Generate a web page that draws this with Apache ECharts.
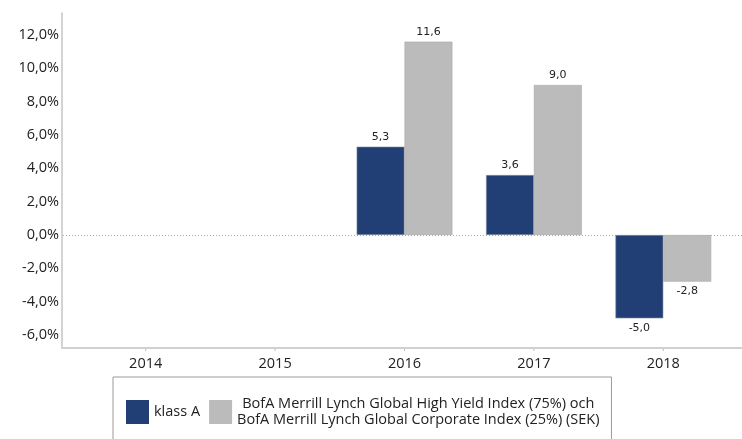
<!DOCTYPE html>
<html>
<head>
<meta charset="utf-8">
<script src="https://cdn.jsdelivr.net/npm/echarts@6/dist/echarts.min.js"></script>
<style>
  html, body { margin: 0; padding: 0; background: #fff; }
  #chart { width: 742px; height: 439px; }
</style>
</head>
<body>
<div id="chart"></div>
<script>
const years = ['2014', '2015', '2016', '2017', '2018']
const klassA = [null, null, 5.3, 3.6, -5.0]
const index = [null, null, 11.6, 9.0, -2.8]
const seriesNames = [
  'klass A',
  'BofA Merrill Lynch Global High Yield Index (75%) och\nBofA Merrill Lynch Global Corporate Index (25%) (SEK)'
]
const yMin = -6
const yMax = 12
const yStep = 2

const fmtPct = v => v.toFixed(1).replace('.', ',') + '%'
const fmtVal = p => p.value == null ? '' : p.value.toFixed(1).replace('.', ',')

const chart = echarts.init(document.getElementById('chart'))

const barLabel = {
  show: true,
  position: 'outside',
  formatter: fmtVal,
  fontFamily: 'DejaVu Sans',
  fontSize: 11,
  color: '#222',
  distance: 4
}

chart.setOption({
  animation: false,
  legend: {
    left: 113,
    top: 377,
    padding: [19, 12, 30, 13],
    borderColor: '#9a9a9a',
    borderWidth: 1,
    itemWidth: 23,
    itemHeight: 24,
    itemGap: 9,
    icon: 'rect',
    itemStyle: { borderWidth: 0 },
    formatter: name => name.split('\n').map(s => '{c|' + s + '}').join('\n'),
    textStyle: {
      fontFamily: 'Open Sans', fontSize: 14.5, color: '#222', lineHeight: 16,
      rich: { c: { align: 'center', fontFamily: 'Open Sans', fontSize: 14.5, color: '#222', lineHeight: 16 } }
    },
    data: seriesNames
  },
  grid: [
    // plot grid for the bars
    { left: 81, right: 14, top: 35, bottom: 104 },
    // frame grid: axis lines
    { left: 62, right: 0, top: 13, bottom: 91 }
  ],
  xAxis: [
    {
      gridIndex: 0,
      type: 'category',
      data: years,
      axisLine: { show: false },
      axisTick: { show: false },
      axisLabel: { show: false }
    },
    {
      gridIndex: 1,
      type: 'value',
      min: 0,
      max: 680,
      axisLine: { show: true, lineStyle: { color: '#d0d0d0', width: 2 } },
      axisTick: { show: false },
      axisLabel: { show: false },
      splitLine: { show: false }
    }
  ],
  yAxis: [
    {
      gridIndex: 0,
      type: 'value',
      min: yMin,
      max: yMax,
      interval: yStep,
      axisLine: { show: false },
      axisTick: { show: false },
      axisLabel: {
        formatter: fmtPct,
        fontFamily: 'Open Sans',
        fontSize: 14.5,
        color: '#222',
        margin: 22
      },
      splitLine: { show: false }
    },
    {
      gridIndex: 1,
      type: 'value',
      min: 0,
      max: 1,
      axisLine: { show: true, lineStyle: { color: '#c4c4c4', width: 1.5 } },
      axisTick: { show: false },
      axisLabel: { show: false },
      splitLine: { show: false }
    }
  ],
  series: [
    {
      name: seriesNames[0],
      type: 'bar',
      data: klassA,
      barWidth: '37%',
      barGap: '0%',
      itemStyle: { color: '#213f74', borderColor: '#8a95a8', borderWidth: 0.6 },
      label: barLabel
    },
    {
      name: seriesNames[1],
      type: 'bar',
      data: index,
      barWidth: '37%',
      itemStyle: { color: '#bbbbbb', borderColor: '#a8a8a8', borderWidth: 0.6 },
      label: barLabel
    }
  ]
})

// category labels and ticks on the bottom axis, placed through the bar grid's category scale
const labelGraphics = years.map(y => {
  const px = chart.convertToPixel({ xAxisIndex: 0 }, y)
  return {
    type: 'text',
    x: px,
    y: 356,
    style: { text: y, fontFamily: 'Open Sans', fontSize: 14.5, fill: '#222', align: 'center' }
  }
})
const tickGraphics = years.map(y => {
  const px = chart.convertToPixel({ xAxisIndex: 0 }, y)
  return { type: 'line', shape: { x1: px, y1: 348, x2: px, y2: 351 }, style: { stroke: '#bbb', lineWidth: 1 } }
})
// dotted zero line
const zeroY = chart.convertToPixel({ yAxisIndex: 0 }, 0)
chart.setOption({
  graphic: labelGraphics.concat(tickGraphics).concat([{
    type: 'line',
    shape: { x1: 63, y1: Math.round(zeroY) + 0.5, x2: 742, y2: Math.round(zeroY) + 0.5 },
    style: { stroke: '#aaa', lineWidth: 1, lineDash: [1, 2] },
    z: 0
  }])
})
</script>
</body>
</html>
